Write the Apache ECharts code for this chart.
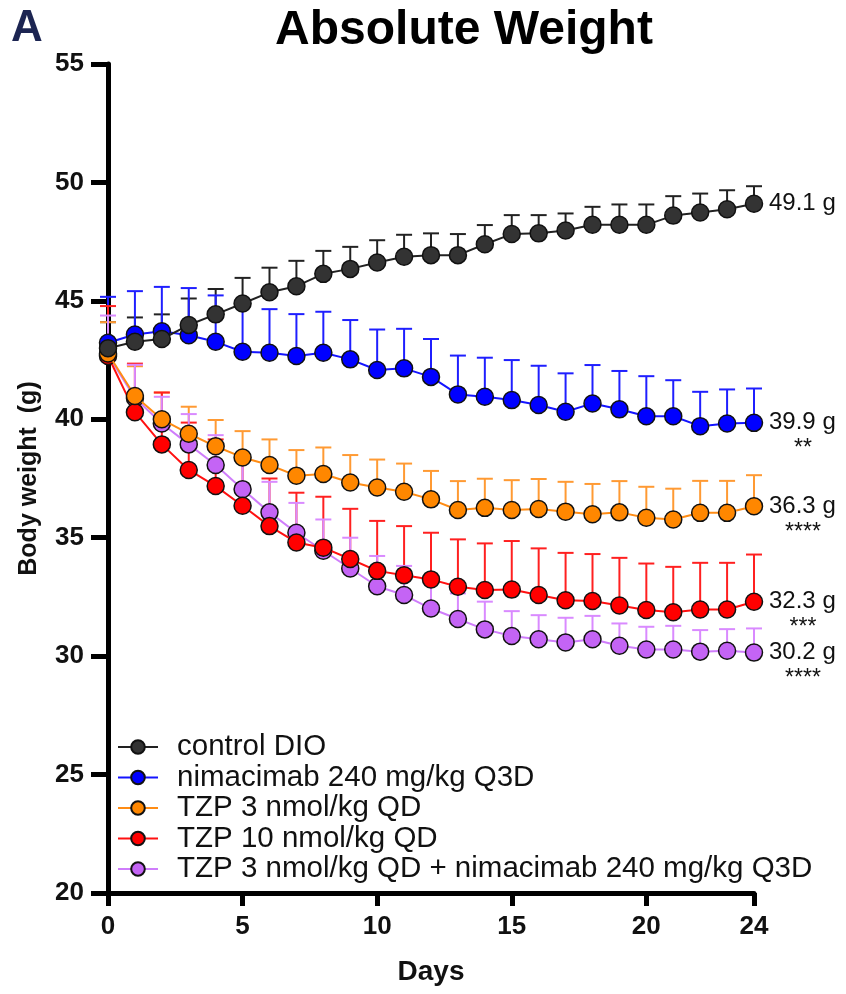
<!DOCTYPE html>
<html lang="en">
<head>
    <meta charset="UTF-8">
    <title>Absolute Weight</title>
    <script src="https://cdn.jsdelivr.net/npm/echarts@6/dist/echarts.min.js"></script>
    <style>
        html, body { margin: 0; padding: 0; background: #fff; }
        #main { width: 846px; height: 994px; }
    </style>
</head>
<body>
<div id="main"></div>
<script>
    // study days
    var days = [0, 1, 2, 3, 4, 5, 6, 7, 8, 9, 10, 11, 12, 13, 14, 15, 16, 17, 18, 19, 20, 21, 22, 23, 24];
    var xTicks = [0, 5, 10, 15, 20, 24];

    var groupNames = [
        'control DIO',
        'nimacimab 240 mg/kg Q3D',
        'TZP 3 nmol/kg QD',
        'TZP 10 nmol/kg QD',
        'TZP 3 nmol/kg QD + nimacimab 240 mg/kg Q3D'
    ];

    // mean body weight (g)
    var controlMean = [43.0, 43.27, 43.39, 43.98, 44.43, 44.89, 45.36, 45.62, 46.14, 46.35, 46.62, 46.86, 46.93, 46.93, 47.39, 47.82, 47.85, 47.97, 48.21, 48.21, 48.21, 48.6, 48.73, 48.87, 49.1];
    var nimaMean = [43.23, 43.58, 43.72, 43.55, 43.27, 42.85, 42.81, 42.67, 42.81, 42.53, 42.08, 42.15, 41.79, 41.05, 40.95, 40.81, 40.6, 40.32, 40.67, 40.42, 40.13, 40.13, 39.71, 39.82, 39.85];
    var tzp3Mean = [42.78, 40.98, 40.0, 39.39, 38.86, 38.39, 38.07, 37.62, 37.69, 37.33, 37.12, 36.94, 36.62, 36.17, 36.26, 36.17, 36.21, 36.1, 35.99, 36.07, 35.84, 35.77, 36.05, 36.05, 36.33];
    var tzp10Mean = [42.67, 40.3, 38.94, 37.86, 37.18, 36.35, 35.49, 34.8, 34.58, 34.1, 33.6, 33.42, 33.24, 32.93, 32.79, 32.81, 32.58, 32.36, 32.33, 32.14, 31.95, 31.85, 31.97, 31.97, 32.3];
    var comboMean = [42.72, 40.9, 39.82, 38.94, 38.07, 37.05, 36.07, 35.21, 34.45, 33.7, 32.95, 32.58, 32.01, 31.57, 31.13, 30.85, 30.71, 30.58, 30.71, 30.44, 30.28, 30.28, 30.19, 30.23, 30.15];

    // upper error (g)
    var controlErr = [1.1, 1.03, 1.04, 1.12, 1.07, 1.08, 1.04, 1.07, 0.97, 0.93, 0.94, 0.93, 0.92, 0.89, 0.81, 0.8, 0.77, 0.72, 0.76, 0.86, 0.86, 0.82, 0.8, 0.8, 0.74];
    var nimaErr = [1.94, 1.83, 1.87, 1.99, 1.96, 2.05, 1.84, 1.77, 1.73, 1.66, 1.71, 1.67, 1.6, 1.64, 1.65, 1.69, 1.66, 1.62, 1.62, 1.62, 1.69, 1.52, 1.45, 1.44, 1.45];
    var tzp3Err = [1.32, 1.26, 1.13, 1.14, 1.11, 1.11, 1.08, 1.08, 1.12, 1.16, 1.18, 1.19, 1.2, 1.22, 1.23, 1.26, 1.27, 1.26, 1.28, 1.32, 1.31, 1.3, 1.35, 1.35, 1.31];
    var tzp10Err = [2.11, 2.05, 2.19, 2.0, 1.97, 2.05, 2.01, 2.1, 2.15, 2.12, 2.11, 2.07, 1.97, 2.0, 1.97, 2.05, 1.97, 2.0, 1.98, 2.01, 1.96, 1.92, 1.97, 1.97, 1.99];
    var comboErr = [1.66, 1.4, 1.13, 1.28, 1.26, 1.35, 1.29, 1.26, 1.32, 1.3, 1.28, 1.23, 1.19, 1.08, 1.17, 1.05, 1.02, 1.04, 0.99, 0.94, 0.96, 1.0, 0.91, 0.91, 1.02];

    // end-of-study labels
    var endValues = ['49.1 g', '39.9 g', '36.3 g', '32.3 g', '30.2 g'];
    var endStars = ['', '**', '****', '***', '****'];

    var FONT = '"Liberation Sans", Arial, Helvetica, sans-serif';

    var groups = [
        { mean: controlMean, err: controlErr, fill: '#333333', line: '#222222', bar: '#222222' },
        { mean: nimaMean, err: nimaErr, fill: '#0000ff', line: '#1414ff', bar: '#1f1fff' },
        { mean: tzp3Mean, err: tzp3Err, fill: '#ff8700', line: '#ff8c14', bar: '#ff9a33' },
        { mean: tzp10Mean, err: tzp10Err, fill: '#ff0000', line: '#ff1010', bar: '#ff2020' },
        { mean: comboMean, err: comboErr, fill: '#c464f5', line: '#cf7dfb', bar: '#d98aff' }
    ];

    function pairs(arr) {
        return days.map(function (d, i) { return [d, arr[i]]; });
    }

    var lastDay = days[days.length - 1];
    var series = [];
    groups.forEach(function (g, k) {
        // upward error bars, drawn under every line
        series.push({
            name: 'err' + k,
            type: 'custom',
            z: 1,
            silent: true,
            data: days.map(function (d, i) { return [d, g.mean[i], g.mean[i] + g.err[i]]; }),
            renderItem: function (params, api) {
                var p0 = api.coord([api.value(0), api.value(1)]);
                var p1 = api.coord([api.value(0), api.value(2)]);
                var st = { stroke: g.bar, lineWidth: 2 };
                return {
                    type: 'group',
                    children: [
                        { type: 'line', shape: { x1: p0[0], y1: p0[1], x2: p1[0], y2: p1[1] }, style: st },
                        { type: 'line', shape: { x1: p1[0] - 8, y1: p1[1], x2: p1[0] + 8, y2: p1[1] }, style: st }
                    ]
                };
            }
        });
        var stars = endStars[k];
        var s = {
            name: groupNames[k],
            type: 'line',
            z: 10 - k,
            data: pairs(g.mean),
            symbol: 'circle',
            symbolSize: 17,
            color: g.fill,
            lineStyle: { color: g.line, width: 2 },
            itemStyle: { color: g.fill, borderColor: '#111', borderWidth: 1.5 },
            emphasis: { disabled: true },
            endLabel: {
                show: true,
                distance: 15,
                formatter: endValues[k],
                fontFamily: FONT,
                fontSize: 24,
                color: '#111'
            }
        };
        if (stars) {
            // significance stars under the end value
            s.markPoint = {
                silent: true,
                symbol: 'circle',
                symbolSize: 0,
                data: [{ coord: [lastDay, g.mean[g.mean.length - 1]], value: stars }],
                label: {
                    show: true,
                    position: 'inside',
                    offset: [49, 26],
                    formatter: stars,
                    fontFamily: FONT,
                    fontSize: 23,
                    color: '#111'
                }
            };
        }
        series.push(s);
    });

    var chart = echarts.init(document.getElementById('main'));
    chart.setOption({
        animation: false,
        backgroundColor: '#fff',
        title: [{
            text: 'Absolute Weight',
            left: 459,
            top: 2,
            textAlign: 'center',
            textStyle: { fontFamily: FONT, fontSize: 48, fontWeight: 'bold', color: '#000' }
        }, {
            text: 'A',
            left: 6,
            top: 2,
            textStyle: { fontFamily: FONT, fontSize: 44, fontWeight: 'bold', color: '#1c2552' }
        }],
        legend: {
            orient: 'vertical',
            left: 112,
            top: 727,
            itemWidth: 40,
            itemHeight: 17,
            itemGap: 0.5,
            data: groupNames,
            textStyle: { fontFamily: FONT, fontSize: 29.5, color: '#111', padding: [0, 0, 0, 14] }
        },
        grid: { left: 108, right: 92, top: 64, bottom: 101 },
        xAxis: {
            type: 'value',
            min: 0,
            max: 24,
            name: 'Days',
            nameLocation: 'middle',
            nameGap: 65,
            nameTextStyle: { fontFamily: FONT, fontSize: 28, fontWeight: 'bold', color: '#111' },
            axisLine: { lineStyle: { color: '#000', width: 5 } },
            axisTick: { show: true, customValues: xTicks, length: 13, lineStyle: { color: '#000', width: 5 } },
            axisLabel: { customValues: xTicks, margin: 21, fontFamily: FONT, fontSize: 26, fontWeight: 'bold', color: '#111' },
            splitLine: { show: false }
        },
        yAxis: {
            type: 'value',
            min: 20,
            max: 55,
            interval: 5,
            name: 'Body weight  (g)',
            nameLocation: 'middle',
            nameGap: 66,
            nameTextStyle: { fontFamily: FONT, fontSize: 25, fontWeight: 'bold', color: '#111' },
            axisLine: { show: true, lineStyle: { color: '#000', width: 5 } },
            axisTick: { show: true, length: 17, lineStyle: { color: '#000', width: 5 } },
            axisLabel: { margin: 24, fontFamily: FONT, fontSize: 26, fontWeight: 'bold', color: '#111' },
            splitLine: { show: false }
        },
        series: series
    });
</script>
</body>
</html>
